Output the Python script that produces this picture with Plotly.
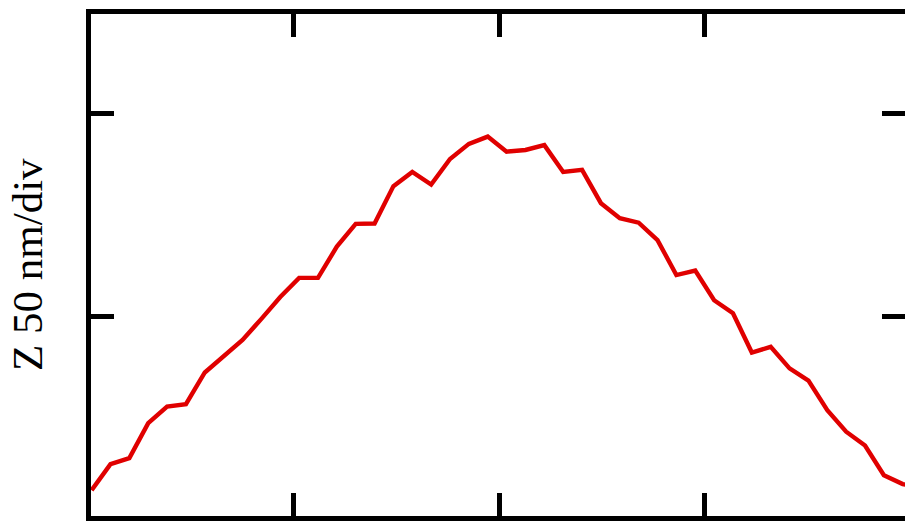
import plotly.graph_objects as go

# Height profile (Z in nm, 50 nm per division)
profile_nm = [7.1, 13.5, 15.0, 23.6, 27.7, 28.3, 36.1, 40.1, 44.1, 49.3,
              54.7, 59.4, 59.4, 67.1, 72.7, 72.8, 82.0, 85.5, 82.4, 88.7,
              92.4, 94.2, 90.5, 90.9, 92.1, 85.5, 86.0, 77.8, 74.1, 73.0,
              68.7, 60.1, 61.2, 53.9, 50.7, 41.0, 42.4, 37.1, 34.1, 26.8,
              21.5, 18.1, 10.8, 8.6, 7.6]

# lateral sample positions, in x divisions
x_start = 0.013
x_step = 0.092
positions = [x_start + i * x_step for i in range(len(profile_nm))]

x_ticks = [1, 2, 3]
z_ticks = [50, 100]
y_title = 'Z 50 nm/div'

AXIS = 'black'
LINE_W = 5
TICK_LEN = 23
x_range = [0.01, 3.98]
z_range = [0.74, 124.4]

fig = go.Figure()

fig.add_trace(go.Scatter(
    x=positions,
    y=profile_nm,
    mode='lines',
    line=dict(color='#e00000', width=4.4),
    hoverinfo='skip',
    showlegend=False
))

# empty trace so the right-hand tick axis gets drawn
fig.add_trace(go.Scatter(x=[], y=[], yaxis='y2', showlegend=False, hoverinfo='skip'))

fig.update_layout(
    width=905,
    height=527,
    margin=dict(l=91, r=0, t=14, b=11),
    plot_bgcolor='white',
    paper_bgcolor='white',
    xaxis=dict(
        range=x_range,
        tickvals=x_ticks,
        showticklabels=False,
        ticks='inside',
        ticklen=TICK_LEN,
        tickwidth=LINE_W,
        tickcolor=AXIS,
        showline=True,
        linecolor=AXIS,
        linewidth=LINE_W,
        mirror='ticks',
        showgrid=False,
        zeroline=False
    ),
    yaxis=dict(
        range=z_range,
        tickvals=z_ticks,
        showticklabels=False,
        ticks='inside',
        ticklen=TICK_LEN,
        tickwidth=LINE_W,
        tickcolor=AXIS,
        showline=True,
        linecolor=AXIS,
        linewidth=LINE_W,
        showgrid=False,
        zeroline=False
    ),
    yaxis2=dict(
        overlaying='y',
        side='right',
        anchor='x',
        range=z_range,
        tickvals=z_ticks,
        showticklabels=False,
        ticks='inside',
        ticklen=TICK_LEN,
        tickwidth=LINE_W,
        tickcolor=AXIS,
        showline=False,
        showgrid=False,
        zeroline=False
    ),
    annotations=[dict(
        text=y_title,
        xref='paper', yref='paper',
        x=-0.0786, y=0.5,
        xanchor='center', yanchor='middle',
        textangle=-90,
        showarrow=False,
        font=dict(family='Liberation Serif, Times New Roman, serif', size=43, color='black')
    )]
)

# drop the browser's default body margin so the 905x527 figure fills the window
fig.write_html('out.html', config={'displayModeBar': False},
               post_script="document.body.style.margin='0';document.body.style.overflow='hidden';")
